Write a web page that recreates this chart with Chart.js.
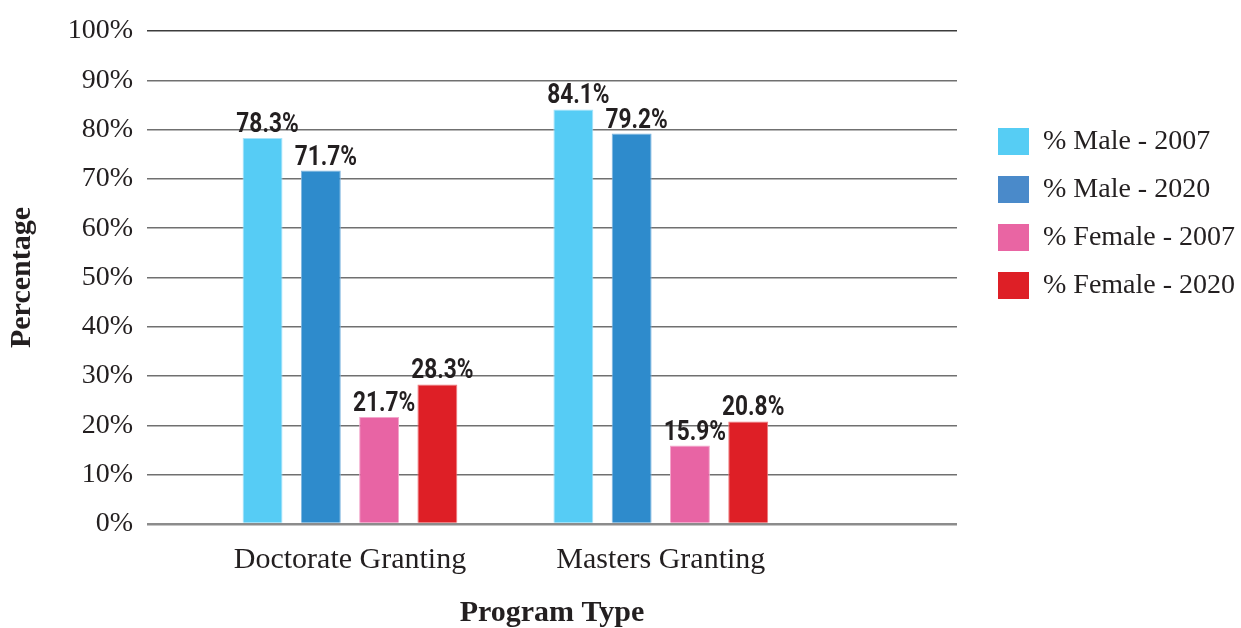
<!DOCTYPE html>
<html lang="en">
<head>
<meta charset="utf-8">
<title>Program Type by Gender</title>
<script src="https://cdn.jsdelivr.net/npm/chart.js@4/dist/chart.umd.min.js"></script>
<style>
  html, body { margin: 0; padding: 0; background: #fff; }
  #wrap { width: 1241px; height: 628px; position: relative; }
</style>
</head>
<body>
<div id="wrap"><canvas id="chart"></canvas></div>
<script>
// ── DATA ─────────────────────────────────────────────────────────────────────
const programTypes = ['Doctorate Granting', 'Masters Granting'];
const seriesNames  = ['% Male - 2007', '% Male - 2020', '% Female - 2007', '% Female - 2020'];
const male2007     = [78.3, 84.1];
const male2020     = [71.7, 79.2];
const female2007   = [21.7, 15.9];
const female2020   = [28.3, 20.8];
const yTicks       = [0, 10, 20, 30, 40, 50, 60, 70, 80, 90, 100];

// ── STYLE ────────────────────────────────────────────────────────────────────
const barFill    = ['#56ccf5', '#2e8bcc', '#e864a4', '#de1f26'];
const barEdge    = ['#a6e3fa', '#7fb6e0', '#f3a6cb', '#ee7a7e'];
const legendFill = ['#56cdf4', '#4a8aca', '#e965a3', '#de1f26'];
const INK   = '#231f20';
const SERIF = '"Liberation Serif", "Times New Roman", serif';
const LABEL_FONT = 'bold 27px Roboto, "DejaVu Sans", sans-serif';
const LABEL_SQUEEZE = 0.84; // condensed look for the value labels

const seriesValues = [male2007, male2020, female2007, female2020];

// Value labels above each bar
const valueLabels = {
  id: 'valueLabels',
  afterDatasetsDraw(chart) {
    const { ctx } = chart;
    ctx.save();
    ctx.font = LABEL_FONT;
    ctx.fillStyle = INK;
    ctx.textAlign = 'center';
    ctx.textBaseline = 'alphabetic';
    seriesValues.forEach((vals, di) => {
      chart.getDatasetMeta(di).data.forEach((bar, i) => {
        ctx.save();
        ctx.translate(bar.x + 5, bar.y - 6);
        ctx.scale(LABEL_SQUEEZE, 1);
        ctx.fillText(vals[i].toFixed(1) + '%', 0, 0);
        ctx.restore();
      });
    });
    ctx.restore();
  },
};

new Chart(document.getElementById('chart'), {
  type: 'bar',
  data: {
    datasets: seriesNames.map((name, di) => ({
      label: name,
      data: seriesValues[di].map((v, i) => ({ x: i, y: v })),
      backgroundColor: barFill[di],
      borderColor: barEdge[di],
      borderWidth: 1,
      categoryPercentage: 0.75,
      barPercentage: 0.685,
    })),
  },
  options: {
    responsive: true, maintainAspectRatio: false,
    animation: false,
    layout: { padding: { top: 31, right: 0, bottom: 0, left: 0 } },
    scales: {
      x: {
        type: 'linear',
        min: -0.653, max: 1.953,
        offset: false,
        grid: { display: false, drawTicks: false, offset: false },
        border: { display: false },
        afterBuildTicks(scale) { scale.ticks = programTypes.map((_, i) => ({ value: i })); },
        ticks: {
          autoSkip: false, maxRotation: 0, padding: 18,
          color: INK, font: { family: SERIF, size: 30 },
          callback: (v, i) => programTypes[i],
        },
        title: {
          display: true, text: 'Program Type', color: INK,
          font: { family: SERIF, size: 30, weight: 'bold', lineHeight: 1 },
          padding: { top: 0, bottom: 0 },
        },
        afterFit(scale) { scale.height = 104; },
      },
      y: {
        min: 0, max: 100,
        afterBuildTicks(scale) { scale.ticks = yTicks.map(v => ({ value: v })); },
        grid: {
          drawTicks: false,
          color: ctx => ctx.tick.value === 100 ? '#3c3c3c' : (ctx.tick.value === 0 ? '#8c8c8c' : '#707070'),
          lineWidth: ctx => ctx.tick.value === 0 ? 2.5 : 1.5,
        },
        border: { display: false },
        ticks: {
          padding: 14, color: INK, font: { family: SERIF, size: 28 },
          callback: v => v + '%',
        },
        title: {
          display: true, text: 'Percentage', color: INK,
          font: { family: SERIF, size: 30, weight: 'bold', lineHeight: 1 },
          padding: { top: 7, bottom: 0 },
        },
        afterFit(scale) { scale.width = 147; },
      },
      // spacer between plot and legend
      gap: {
        position: 'right', display: true,
        grid: { display: false }, border: { display: false }, ticks: { display: false },
        afterFit(scale) { scale.width = 21; },
      },
    },
    plugins: {
      legend: {
        position: 'right', align: 'start',
        maxWidth: 263,
        title: { display: true, text: ' ', font: { size: 10, lineHeight: 1 }, padding: { top: 66.5, bottom: 0 } },
        labels: {
          boxWidth: 31, boxHeight: 27, padding: 20,
          color: INK, font: { family: SERIF, size: 28 },
          generateLabels(chart) {
            return Chart.defaults.plugins.legend.labels.generateLabels(chart).map((item, i) => ({
              ...item, fillStyle: legendFill[i], strokeStyle: legendFill[i], lineWidth: 0,
            }));
          },
        },
      },
      tooltip: { enabled: false },
    },
  },
  plugins: [valueLabels],
});
</script>
</body>
</html>
